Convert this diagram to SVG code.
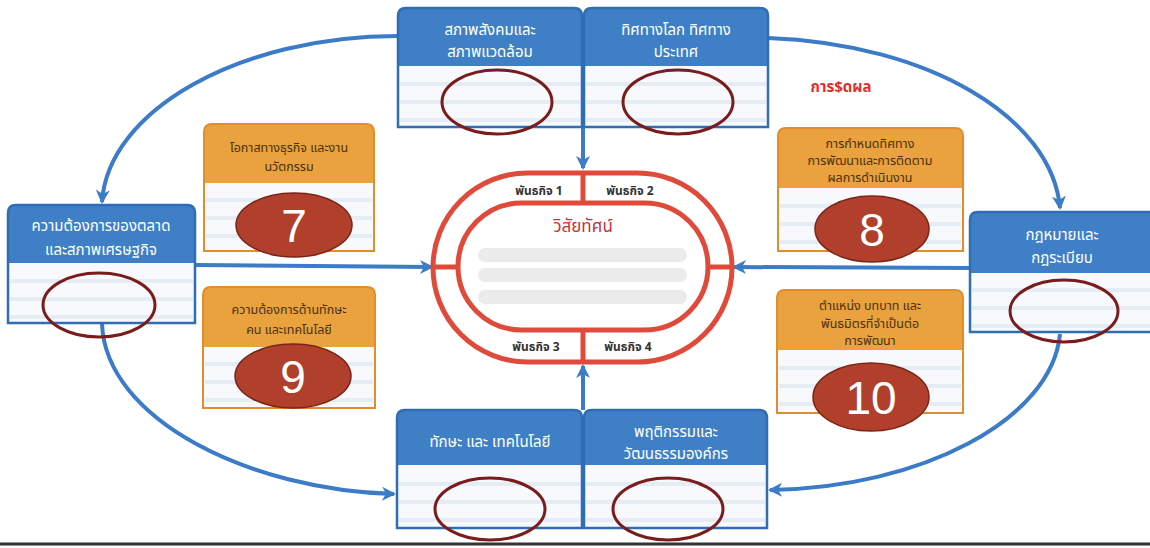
<svg xmlns="http://www.w3.org/2000/svg" width="1150" height="548" viewBox="0 0 1150 548">
<style>
.hb{fill:#3f7fc6;}
.bd{fill:none;stroke:#2f6db5;stroke-width:2.5;}
.body{fill:#f7f9fc;}
.ln{stroke:#e6ecf4;stroke-width:4;}
.ring{fill:none;stroke:#7a1c1c;stroke-width:3;}
.wt{font-family:"Noto Sans Thai","Loma","Garuda","Noto Sans","DejaVu Sans",sans-serif;font-size:15px;fill:#ffffff;text-anchor:middle;}
.oh{fill:#e9a23e;}
.ob{fill:none;stroke:#e28c2c;stroke-width:2;}
.ot{font-family:"Noto Sans Thai","Loma","Garuda","Noto Sans","DejaVu Sans",sans-serif;font-size:12.5px;fill:#4a3010;text-anchor:middle;}
.num{fill:#b0402c;stroke:#7a2418;stroke-width:1.5;}
.nt{font-family:"Liberation Sans",Arial,sans-serif;font-size:46px;fill:#ffffff;text-anchor:middle;}
.conn{fill:none;stroke:#3b7bc8;stroke-width:4;}
.track{fill:none;stroke:#e04a3a;stroke-width:5;}
.mt{font-family:"Noto Sans Thai","Loma","Garuda","Noto Sans","DejaVu Sans",sans-serif;font-size:12px;font-weight:bold;fill:#333;text-anchor:middle;}
.bar{fill:#ebebeb;}
</style>
<defs>
<marker id="ah" markerUnits="userSpaceOnUse" markerWidth="18" markerHeight="18" viewBox="0 0 18 18" refX="14" refY="9" orient="auto">
<path d="M2,2 L16,9 L2,16 L6,9 Z" fill="#3b7bc8"/>
</marker>
</defs>
<rect width="1150" height="548" fill="#ffffff"/>
<line x1="0" y1="544" x2="1150" y2="544" stroke="#333" stroke-width="3"/>

<g id="connectors">
<path class="conn" d="M398,36 C240,36 108,110 102,202" marker-end="url(#ah)"/>
<path class="conn" d="M768,38 C930,44 1052,118 1060,208" marker-end="url(#ah)"/>
<path class="conn" d="M102,324 C106,420 250,490 394,494" marker-end="url(#ah)"/>
<path class="conn" d="M1060,334 C1052,420 920,488 770,490" marker-end="url(#ah)"/>
<path class="conn" d="M583,127 L583,168" marker-end="url(#ah)"/>
<path class="conn" d="M583,410 L583,366" marker-end="url(#ah)"/>
<path class="conn" d="M195,265 L432,267" marker-end="url(#ah)"/>
<path class="conn" d="M970,268 L734,267" marker-end="url(#ah)"/>
</g>

<g id="node-1">
<rect class="body" x="398" y="66" width="184" height="61"/>
<line class="ln" x1="400" y1="84" x2="580" y2="84"/><line class="ln" x1="400" y1="102" x2="580" y2="102"/><line class="ln" x1="400" y1="120" x2="580" y2="120"/>
<path class="hb" d="M398,66 L398,16 Q398,8 406,8 L574,8 Q582,8 582,16 L582,66 Z"/>
<path class="bd" d="M398,16 Q398,8 406,8 L574,8 Q582,8 582,16 L582,127 L398,127 Z"/>
<text class="wt" x="490" y="35">สภาพสังคมและ</text>
<text class="wt" x="490" y="57">สภาพแวดล้อม</text>
<ellipse class="ring" cx="497" cy="102" rx="55" ry="32"/>
</g>

<g id="node-2">
<rect class="body" x="584" y="66" width="184" height="61"/>
<line class="ln" x1="586" y1="84" x2="766" y2="84"/><line class="ln" x1="586" y1="102" x2="766" y2="102"/><line class="ln" x1="586" y1="120" x2="766" y2="120"/>
<path class="hb" d="M584,66 L584,16 Q584,8 592,8 L760,8 Q768,8 768,16 L768,66 Z"/>
<path class="bd" d="M584,16 Q584,8 592,8 L760,8 Q768,8 768,16 L768,127 L584,127 Z"/>
<text class="wt" x="676" y="35">ทิศทางโลก ทิศทาง</text>
<text class="wt" x="676" y="57">ประเทศ</text>
<ellipse class="ring" cx="678" cy="102" rx="55" ry="32"/>
</g>

<g id="node-3">
<rect class="body" x="8" y="263" width="187" height="60"/>
<line class="ln" x1="10" y1="281" x2="193" y2="281"/><line class="ln" x1="10" y1="299" x2="193" y2="299"/><line class="ln" x1="10" y1="317" x2="193" y2="317"/>
<path class="hb" d="M8,263 L8,213 Q8,205 16,205 L187,205 Q195,205 195,213 L195,263 Z"/>
<path class="bd" d="M8,213 Q8,205 16,205 L187,205 Q195,205 195,213 L195,323 L8,323 Z"/>
<text class="wt" x="101" y="231">ความต้องการของตลาด</text>
<text class="wt" x="101" y="255">และสภาพเศรษฐกิจ</text>
<ellipse class="ring" cx="99" cy="305" rx="56" ry="32"/>
</g>

<g id="node-4">
<rect class="body" x="970" y="273" width="182" height="59"/>
<line class="ln" x1="972" y1="290" x2="1150" y2="290"/><line class="ln" x1="972" y1="308" x2="1150" y2="308"/><line class="ln" x1="972" y1="326" x2="1150" y2="326"/>
<path class="hb" d="M970,273 L970,220 Q970,212 978,212 L1152,212 L1152,273 Z"/>
<path class="bd" d="M1152,212 L978,212 Q970,212 970,220 L970,332 L1152,332"/>
<text class="wt" x="1062" y="240">กฎหมายและ</text>
<text class="wt" x="1062" y="263">กฎระเบียบ</text>
<ellipse class="ring" cx="1064" cy="311" rx="54" ry="31"/>
</g>

<g id="node-5">
<rect class="body" x="397" y="465" width="185" height="63"/>
<line class="ln" x1="399" y1="484" x2="580" y2="484"/><line class="ln" x1="399" y1="502" x2="580" y2="502"/><line class="ln" x1="399" y1="520" x2="580" y2="520"/>
<path class="hb" d="M397,465 L397,418 Q397,410 405,410 L574,410 Q582,410 582,418 L582,465 Z"/>
<path class="bd" d="M397,418 Q397,410 405,410 L574,410 Q582,410 582,418 L582,528 L397,528 Z"/>
<text class="wt" x="490" y="447">ทักษะ และ เทคโนโลยี</text>
<ellipse class="ring" cx="490" cy="509" rx="55" ry="31"/>
</g>

<g id="node-6">
<rect class="body" x="584" y="465" width="183" height="63"/>
<line class="ln" x1="586" y1="484" x2="765" y2="484"/><line class="ln" x1="586" y1="502" x2="765" y2="502"/><line class="ln" x1="586" y1="520" x2="765" y2="520"/>
<path class="hb" d="M584,465 L584,418 Q584,410 592,410 L759,410 Q767,410 767,418 L767,465 Z"/>
<path class="bd" d="M584,418 Q584,410 592,410 L759,410 Q767,410 767,418 L767,528 L584,528 Z"/>
<text class="wt" x="676" y="437">พฤติกรรมและ</text>
<text class="wt" x="676" y="459">วัฒนธรรมองค์กร</text>
<ellipse class="ring" cx="668" cy="509" rx="55" ry="31"/>
</g>

<g id="node-7">
<rect class="body" x="204" y="183" width="170" height="68"/>
<line class="ln" x1="206" y1="200" x2="372" y2="200"/><line class="ln" x1="206" y1="218" x2="372" y2="218"/><line class="ln" x1="206" y1="236" x2="372" y2="236"/>
<path class="oh" d="M204,183 L204,132 Q204,124 212,124 L366,124 Q374,124 374,132 L374,183 Z"/>
<path class="ob" d="M204,132 Q204,124 212,124 L366,124 Q374,124 374,132 L374,251 L204,251 Z"/>
<text class="ot" x="289" y="152">โอกาสทางธุรกิจ และงาน</text>
<text class="ot" x="289" y="171">นวัตกรรม</text>
<ellipse class="num" cx="294" cy="225" rx="58" ry="32"/>
<text class="nt" x="294" y="242">7</text>
</g>

<g id="node-8">
<rect class="body" x="778" y="188" width="185" height="63"/>
<line class="ln" x1="780" y1="206" x2="961" y2="206"/><line class="ln" x1="780" y1="224" x2="961" y2="224"/><line class="ln" x1="780" y1="242" x2="961" y2="242"/>
<path class="oh" d="M778,188 L778,136 Q778,128 786,128 L955,128 Q963,128 963,136 L963,188 Z"/>
<path class="ob" d="M778,136 Q778,128 786,128 L955,128 Q963,128 963,136 L963,251 L778,251 Z"/>
<text class="ot" x="870" y="148">การกำหนดทิศทาง</text>
<text class="ot" x="870" y="165">การพัฒนาและการติดตาม</text>
<text class="ot" x="870" y="182">ผลการดำเนินงาน</text>
<ellipse class="num" cx="872" cy="229" rx="57" ry="33"/>
<text class="nt" x="872" y="246">8</text>
</g>

<g id="node-9">
<rect class="body" x="203" y="347" width="172" height="61"/>
<line class="ln" x1="205" y1="364" x2="373" y2="364"/><line class="ln" x1="205" y1="382" x2="373" y2="382"/><line class="ln" x1="205" y1="400" x2="373" y2="400"/>
<path class="oh" d="M203,347 L203,295 Q203,287 211,287 L367,287 Q375,287 375,295 L375,347 Z"/>
<path class="ob" d="M203,295 Q203,287 211,287 L367,287 Q375,287 375,295 L375,408 L203,408 Z"/>
<text class="ot" x="289" y="314">ความต้องการด้านทักษะ</text>
<text class="ot" x="289" y="334">คน และเทคโนโลยี</text>
<ellipse class="num" cx="293" cy="376" rx="58" ry="32"/>
<text class="nt" x="293" y="393">9</text>
</g>

<g id="node-10">
<rect class="body" x="777" y="350" width="186" height="63"/>
<line class="ln" x1="779" y1="368" x2="961" y2="368"/><line class="ln" x1="779" y1="386" x2="961" y2="386"/><line class="ln" x1="779" y1="404" x2="961" y2="404"/>
<path class="oh" d="M777,350 L777,298 Q777,290 785,290 L955,290 Q963,290 963,298 L963,350 Z"/>
<path class="ob" d="M777,298 Q777,290 785,290 L955,290 Q963,290 963,298 L963,413 L777,413 Z"/>
<text class="ot" x="870" y="310">ตำแหน่ง บทบาท และ</text>
<text class="ot" x="870" y="328">พันธมิตรที่จำเป็นต่อ</text>
<text class="ot" x="870" y="345">การพัฒนา</text>
<ellipse class="num" cx="871" cy="397" rx="58" ry="34"/>
<text class="nt" x="871" y="414">10</text>
</g>

<g id="vision">
<rect x="433" y="173" width="299" height="189" rx="94.5" fill="#ffffff" class="track"/>
<rect x="458" y="203" width="250" height="127" rx="63.5" class="track"/>
<line x1="583" y1="173" x2="583" y2="203" stroke="#e04a3a" stroke-width="5"/>
<line x1="583" y1="330" x2="583" y2="362" stroke="#e04a3a" stroke-width="5"/>
<line x1="433" y1="267" x2="458" y2="267" stroke="#e04a3a" stroke-width="5"/>
<line x1="708" y1="267" x2="732" y2="267" stroke="#e04a3a" stroke-width="5"/>
<text class="mt" x="539" y="195">พันธกิจ 1</text>
<text class="mt" x="630" y="195">พันธกิจ 2</text>
<text class="mt" x="536" y="351">พันธกิจ 3</text>
<text class="mt" x="628" y="351">พันธกิจ 4</text>
<text x="583" y="232" font-family="'Noto Sans Thai','Loma','Garuda','Noto Sans','DejaVu Sans',sans-serif" font-size="17" fill="#c8333a" text-anchor="middle">วิสัยทัศน์</text>
<rect class="bar" x="478" y="248" width="209" height="14" rx="7"/>
<rect class="bar" x="478" y="268" width="209" height="14" rx="7"/>
<rect class="bar" x="478" y="290" width="209" height="14" rx="7"/>
</g>

<text x="841" y="92" font-family="'Noto Sans Thai','Loma','Garuda','Noto Sans','DejaVu Sans',sans-serif" font-size="15" font-weight="bold" fill="#e0302a" text-anchor="middle">การ$ดผล</text>
</svg>
